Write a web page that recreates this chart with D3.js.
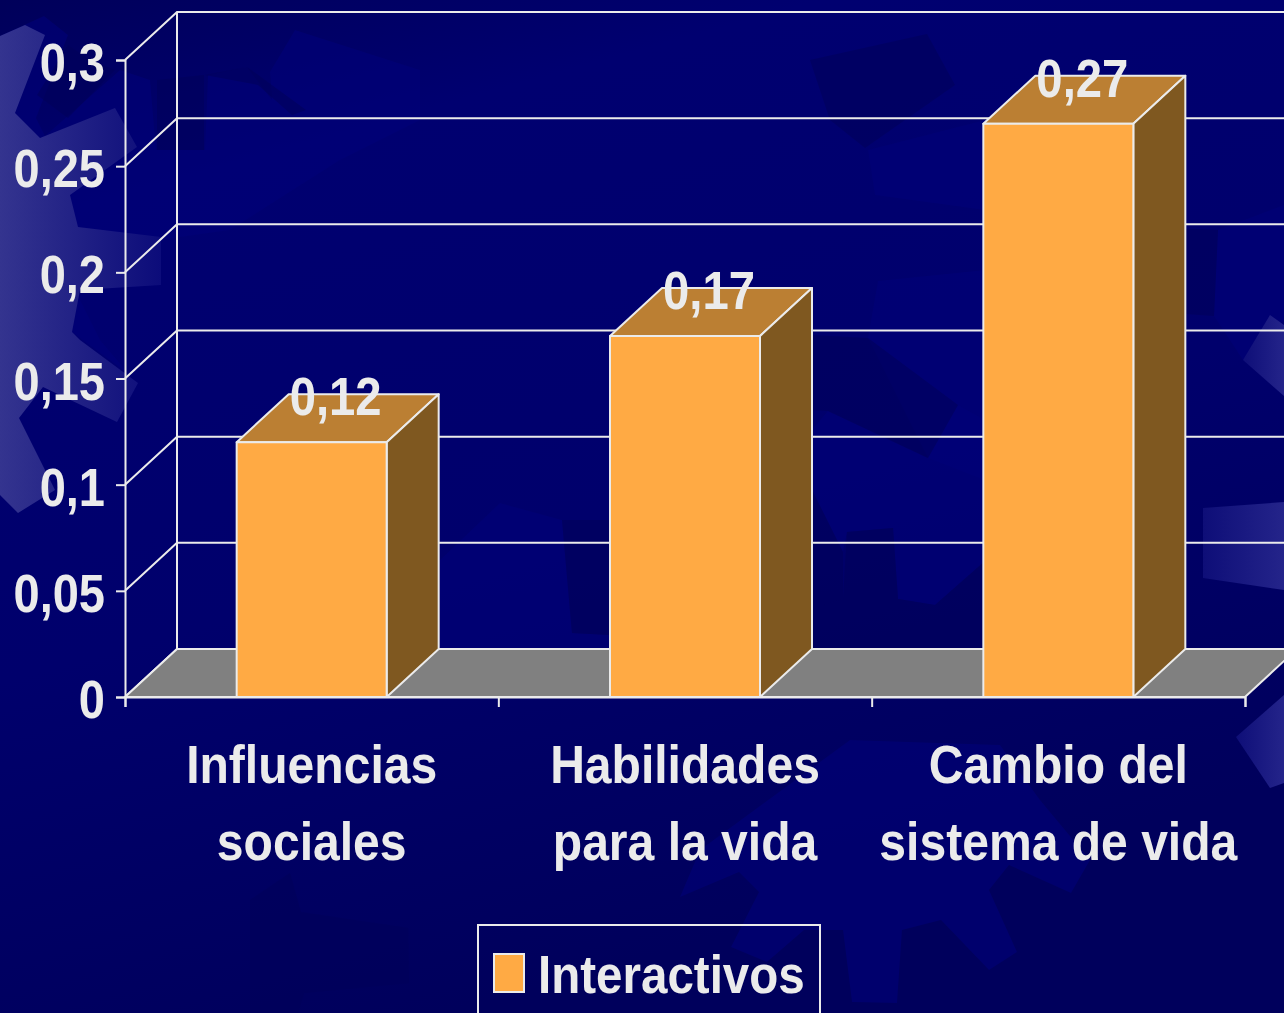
<!DOCTYPE html>
<html>
<head>
<meta charset="utf-8">
<script src="https://cdn.jsdelivr.net/npm/d3@7"></script>
<style>
  html, body { margin: 0; padding: 0; background: #000070; overflow: hidden; }
  text { font-family: "Liberation Sans", Arial, sans-serif; font-weight: bold; fill: #ebebeb; }
</style>
</head>
<body>
<div id="chart"></div>
<script>
const categories = [['Influencias', 'sociales'], ['Habilidades', 'para la vida'], ['Cambio del', 'sistema de vida']];
const values = [0.12, 0.17, 0.27];
const valueLabels = ['0,12', '0,17', '0,27'];
const yTicks = [0, 0.05, 0.1, 0.15, 0.2, 0.25, 0.3];
const seriesName = 'Interactivos';

// background gear shapes
const lightShapes = [
  [[0,36],[25,25],[45,35],[15,113],[40,138],[115,108],[137,147],[70,195],[78,227],[161,237],[161,285],[80,290],[72,332],[80,340],[138,383],[117,422],[43,387],[19,418],[55,490],[18,513],[0,495]],
  [[1270,315],[1243,360],[1284,396],[1284,325]],
  [[1203,508],[1284,502],[1284,590],[1203,578]],
  [[1236,737],[1284,695],[1284,783],[1270,788]]
];
const brightShapes = [
  [[0,36],[44,16],[68,35],[36,118],[45,136],[120,70],[150,80],[156,150],[205,150],[208,75],[247,67],[272,100],[270,72],[295,30],[420,70],[420,120],[340,160],[230,230],[160,240],[161,285],[80,290],[72,332],[130,375],[100,340],[80,300],[0,300]],
  [[868,150],[985,120],[985,210],[875,195]],
  [[878,281],[985,270],[985,480],[928,458],[868,338]],
  [[1218,230],[1284,205],[1284,320],[1243,360],[1214,316]],
  [[828,411],[928,458],[958,405],[985,420],[985,561],[935,605],[898,599],[893,528],[847,532],[843,552],[812,490],[812,430]],
  [[500,503],[562,520],[572,633],[610,635],[610,650],[440,650],[440,560]],
  [[739,872],[759,892],[731,947],[767,962],[804,930],[843,930],[852,1002],[897,1003],[902,930],[941,920],[989,970],[1017,952],[989,890],[1009,865],[1071,893],[1090,860],[1040,800],[1000,745],[850,740],[700,850],[680,897]]
];
const darkShapes = [
  [[37,95],[68,118],[115,70],[90,60],[68,45]],
  [[157,80],[204,75],[204,150],[157,150]],
  [[205,75],[247,67],[306,110],[292,115],[258,85]],
  [[810,60],[927,34],[955,85],[865,148],[830,120]],
  [[812,335],[868,338],[958,405],[928,458],[828,411],[812,410]],
  [[985,220],[1218,230],[1214,316],[1130,310],[985,270]],
  [[812,490],[843,552],[843,599],[812,609]],
  [[847,532],[893,528],[898,599],[935,605],[985,561],[985,650],[812,650],[812,609],[843,599]],
  [[562,520],[610,520],[610,635],[572,633]],
  [[290,873],[301,912],[408,928],[409,983],[304,993],[298,1013],[250,1013],[250,900]]
];

const width = 1284, height = 1013;
const depthX = 52, depthY = 48;

const y = d3.scaleLinear().domain([0, 0.3]).range([697, 60]);
const band = d3.scaleBand().domain(d3.range(categories.length)).range([125, 1245]).paddingInner(0.4).paddingOuter(0.2);
const xEdge = d3.scaleLinear().domain([0, 3]).range([125, 1245]);
const barW = 150;
const barX = i => band(i) + band.bandwidth() / 2 - barW / 2;

const svg = d3.select('#chart').append('svg').attr('width', width).attr('height', height);
const defs = svg.append('defs');

const bg = defs.append('linearGradient').attr('id', 'bg')
  .attr('x1', 0).attr('y1', 0).attr('x2', 0.35).attr('y2', 1);
bg.append('stop').attr('offset', '0%').attr('stop-color', '#00005a');
bg.append('stop').attr('offset', '20%').attr('stop-color', '#000070');
bg.append('stop').attr('offset', '60%').attr('stop-color', '#00006c');
bg.append('stop').attr('offset', '100%').attr('stop-color', '#00005c');

const leftLight = defs.append('linearGradient').attr('id', 'leftLight');
leftLight.append('stop').attr('offset', '0%').attr('stop-color', '#34348f');
leftLight.append('stop').attr('offset', '100%').attr('stop-color', '#0c0c7a');
const rightLight = defs.append('linearGradient').attr('id', 'rightLight');
rightLight.append('stop').attr('offset', '0%').attr('stop-color', '#0e0e78');
rightLight.append('stop').attr('offset', '100%').attr('stop-color', '#24248a');

svg.append('rect').attr('width', width).attr('height', height).attr('fill', 'url(#bg)');

const poly = d3.line();
svg.append('g').selectAll('path').data(brightShapes).join('path')
  .attr('d', d => poly(d) + 'Z').attr('fill', '#000078').attr('opacity', 0.6);
svg.append('g').selectAll('path').data(darkShapes).join('path')
  .attr('d', d => poly(d) + 'Z').attr('fill', '#00005a').attr('opacity', 0.55);
svg.append('g').selectAll('path').data(lightShapes).join('path')
  .attr('d', d => poly(d) + 'Z')
  .attr('fill', (d, i) => i === 0 ? 'url(#leftLight)' : 'url(#rightLight)');

const lineColor = '#ebebeb';

// back wall and side wall grid
const grid = svg.append('g').attr('stroke', lineColor).attr('stroke-width', 2).attr('fill', 'none');
grid.selectAll('.wall').data(yTicks).join('path').attr('class', 'wall')
  .attr('d', d => poly([[125, y(d)], [125 + depthX, y(d) - depthY], [width + 10, y(d) - depthY]]));
grid.append('line').attr('x1', 125 + depthX).attr('x2', 125 + depthX)
  .attr('y1', y(0.3) - depthY).attr('y2', y(0) - depthY);

// floor
svg.append('path')
  .attr('d', poly([[125, y(0)], [125 + depthX, y(0) - depthY], [1245 + depthX, y(0) - depthY], [1245, y(0)]]) + 'Z')
  .attr('fill', '#808080').attr('stroke', lineColor).attr('stroke-width', 2);

// axes
const yAxis = svg.append('g').attr('transform', 'translate(125,0)')
  .call(d3.axisLeft(y).tickValues(yTicks).tickSize(9).tickFormat(''));
const xAxis = svg.append('g').attr('transform', `translate(0,${y(0)})`)
  .call(d3.axisBottom(xEdge).tickValues([0, 1, 2, 3]).tickSize(10).tickFormat(''));
[yAxis, xAxis].forEach(a => {
  a.selectAll('path,line').attr('stroke', lineColor).attr('stroke-width', 2);
});

// bars
const bars = svg.append('g').selectAll('g').data(values).join('g')
  .attr('stroke', lineColor).attr('stroke-width', 2).attr('stroke-linejoin', 'round');
bars.append('path') // top
  .attr('fill', '#bb7f33')
  .attr('d', (d, i) => poly([[barX(i), y(d)], [barX(i) + depthX, y(d) - depthY], [barX(i) + barW + depthX, y(d) - depthY], [barX(i) + barW, y(d)]]) + 'Z');
bars.append('path') // side
  .attr('fill', '#7f5820')
  .attr('d', (d, i) => poly([[barX(i) + barW, y(d)], [barX(i) + barW + depthX, y(d) - depthY], [barX(i) + barW + depthX, y(0) - depthY], [barX(i) + barW, y(0)]]) + 'Z');
bars.append('rect') // front
  .attr('fill', '#ffaa44')
  .attr('x', (d, i) => barX(i)).attr('y', d => y(d))
  .attr('width', barW).attr('height', d => y(0) - y(d));

// text is narrower than the installed font, squeeze it sideways
const narrowText = (sel, x, yPos, sx, anchor) => sel
  .attr('text-anchor', anchor)
  .attr('font-size', 54)
  .attr('transform', (d, i) => `translate(${x(d, i)},${yPos(d, i)}) scale(${sx},1)`);

svg.append('g').selectAll('text').data(yTicks).join('text')
  .call(narrowText, () => 105, d => y(d) + 21, 0.87, 'end')
  .text(d => String(d).replace('.', ','));

svg.append('g').selectAll('text').data(values).join('text')
  .call(narrowText, (d, i) => barX(i) + barW / 2 + 24, d => y(d) - 27, 0.875, 'middle')
  .text((d, i) => valueLabels[i]);

categories.forEach((lines, i) => {
  svg.append('g').selectAll('text').data(lines).join('text')
    .call(narrowText, () => band(i) + band.bandwidth() / 2, (d, k) => 783 + k * 77, 0.89, 'middle')
    .text(d => d);
});

// legend
const legend = svg.append('g');
legend.append('rect').attr('x', 478).attr('y', 925).attr('width', 342).attr('height', 110)
  .attr('fill', 'none').attr('stroke', lineColor).attr('stroke-width', 2);
legend.append('rect').attr('x', 494).attr('y', 954).attr('width', 30).attr('height', 38)
  .attr('fill', '#ffaa44').attr('stroke', lineColor).attr('stroke-width', 2);
legend.append('text').datum(seriesName)
  .call(narrowText, () => 538, () => 993, 0.88, 'start')
  .text(d => d);
</script>
</body>
</html>
